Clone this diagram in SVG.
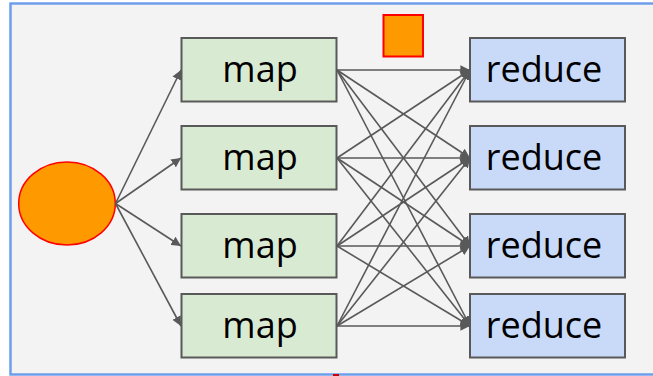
<svg xmlns="http://www.w3.org/2000/svg" width="653" height="376" viewBox="0 0 653 376">
  <defs>
    <marker id="ah" viewBox="0 0 10 10" refX="10" refY="5" markerWidth="6" markerHeight="6" markerUnits="strokeWidth" orient="auto">
      <path d="M0,0 L10,5 L0,10 Z" fill="#595959"/>
    </marker>
    <style>
      .map rect { fill: #d9ead3; stroke: #595959; stroke-width: 2; }
      .red rect { fill: #c9daf8; stroke: #595959; stroke-width: 2; }
      .lbl { font-family: "Open Sans", "Noto Sans", sans-serif; font-size: 36px; fill: #000; text-anchor: middle; }
      .conn line { stroke: #595959; stroke-width: 1.6; marker-end: url(#ah); }
    </style>
  </defs>
  <rect x="10.5" y="3.5" width="660" height="371" fill="#f3f3f3" stroke="#6d9eeb" stroke-width="2.5"/>
  <rect x="333" y="374" width="6" height="2" fill="#cc0000"/>

  <g id="source">
    <ellipse cx="67" cy="203.5" rx="48.3" ry="41.5" fill="#ff9900" stroke="#ff0000" stroke-width="1.5"/>
  </g>
  <g id="marker-square">
    <rect x="383.5" y="15" width="39.5" height="41.5" fill="#ff9900" stroke="#ff0000" stroke-width="2"/>
  </g>

  <g id="connectors" class="conn">
    <line x1="115.5" y1="203.5" x2="181" y2="70"/>
    <line x1="115.5" y1="203.5" x2="181" y2="158"/>
    <line x1="115.5" y1="203.5" x2="181" y2="246"/>
    <line x1="115.5" y1="203.5" x2="181" y2="326"/>

    <line x1="337" y1="70" x2="470" y2="70"/>
    <line x1="337" y1="70" x2="470" y2="158"/>
    <line x1="337" y1="70" x2="470" y2="246"/>
    <line x1="337" y1="70" x2="470" y2="326"/>

    <line x1="337" y1="158" x2="470" y2="70"/>
    <line x1="337" y1="158" x2="470" y2="158"/>
    <line x1="337" y1="158" x2="470" y2="246"/>
    <line x1="337" y1="158" x2="470" y2="326"/>

    <line x1="337" y1="246" x2="470" y2="70"/>
    <line x1="337" y1="246" x2="470" y2="158"/>
    <line x1="337" y1="246" x2="470" y2="246"/>
    <line x1="337" y1="246" x2="470" y2="326"/>

    <line x1="337" y1="326" x2="470" y2="70"/>
    <line x1="337" y1="326" x2="470" y2="158"/>
    <line x1="337" y1="326" x2="470" y2="246"/>
    <line x1="337" y1="326" x2="470" y2="326"/>
  </g>

  <g id="map1" class="map"><rect x="181.5" y="38" width="155" height="63.5"/><text class="lbl" x="260" y="82">map</text></g>
  <g id="map2" class="map"><rect x="181.5" y="126" width="155" height="63.5"/><text class="lbl" x="260" y="170">map</text></g>
  <g id="map3" class="map"><rect x="181.5" y="214" width="155" height="63.5"/><text class="lbl" x="260" y="258">map</text></g>
  <g id="map4" class="map"><rect x="181.5" y="294" width="155" height="63.5"/><text class="lbl" x="260" y="338">map</text></g>

  <g id="reduce1" class="red"><rect x="470" y="38" width="155" height="63.5"/><text class="lbl" x="544" y="81.5">reduce</text></g>
  <g id="reduce2" class="red"><rect x="470" y="126" width="155" height="63.5"/><text class="lbl" x="544" y="169.5">reduce</text></g>
  <g id="reduce3" class="red"><rect x="470" y="214" width="155" height="63.5"/><text class="lbl" x="544" y="257.5">reduce</text></g>
  <g id="reduce4" class="red"><rect x="470" y="294" width="155" height="63.5"/><text class="lbl" x="544" y="337.5">reduce</text></g>
</svg>
